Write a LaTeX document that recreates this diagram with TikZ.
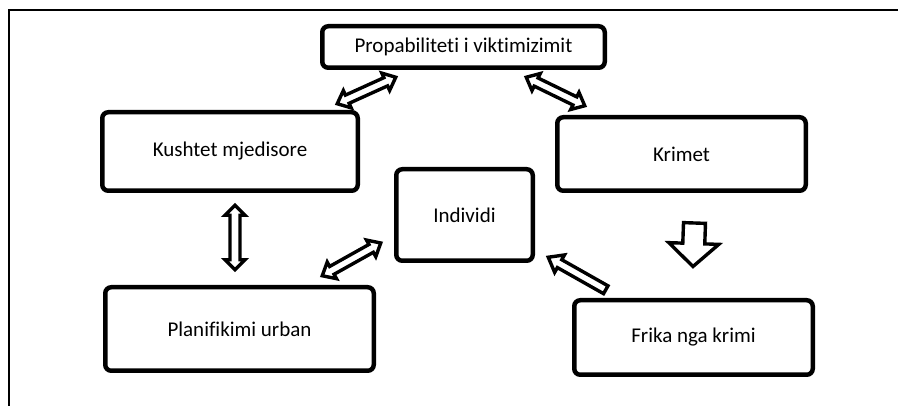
\documentclass[tikz,border=0pt]{standalone}
\usepackage{fontspec}
\setmainfont{Carlito}[Ligatures=NoCommon]
\usepackage{tikz}
\usetikzlibrary{calc}
\tikzset{
	box/.style={draw,line width=4.5pt,rounded corners=6pt,inner sep=0pt,font=\fontsize{21}{25}\selectfont},
	blockarrow/.style={draw,line width=3.4pt,fill=white,line join=miter},
}
% hollow block arrows: ends, shaft half width, head half width, head length
\newcommand{\dblarrow}[5]{%
	\coordinate (ca) at ($(#1)!#5!(#2)$);
	\coordinate (cb) at ($(#2)!#5!(#1)$);
	\draw[blockarrow] (#1) -- ($(ca)!#4!90:(#2)$) -- ($(ca)!#3!90:(#2)$) -- ($(cb)!#3!-90:(#1)$) -- ($(cb)!#4!-90:(#1)$) -- (#2)
		-- ($(cb)!#4!90:(#1)$) -- ($(cb)!#3!90:(#1)$) -- ($(ca)!#3!-90:(#2)$) -- ($(ca)!#4!-90:(#2)$) -- cycle;
}
\newcommand{\sglarrow}[5]{%
	\coordinate (cb) at ($(#2)!#5!(#1)$);
	\draw[blockarrow] ($(#1)!#3!90:(#2)$) -- ($(cb)!#3!-90:(#1)$) -- ($(cb)!#4!-90:(#1)$) -- (#2)
		-- ($(cb)!#4!90:(#1)$) -- ($(cb)!#3!90:(#1)$) -- ($(#1)!#3!-90:(#2)$) -- cycle;
}

\begin{document}
\begin{tikzpicture}[x=1pt,y=-1pt]
		\useasboundingbox (0,0) rectangle (898,406);
		\coordinate (frameTL) at (9,10);
		\draw[line width=1.6pt] (898,10) -- (frameTL) -- (9,406);

		\node[box,minimum width=282.5pt,minimum height=41.5pt] (prop) at (463.5,47) {Propabiliteti i viktimizimit};
		\node[box,minimum width=255.5pt,minimum height=78.5pt] (kushtet) at (230,151.5) {Kushtet mjedisore};
		\node[box,minimum width=248.5pt,minimum height=73.5pt] (krimet) at (681.5,154) {Krimet};
		\node[box,minimum width=136.5pt,minimum height=91.5pt] (individi) at (464.5,215) {Individi};
		\node[box,minimum width=268.5pt,minimum height=83.5pt] (planif) at (239.5,329) {Planifikimi urban};
		\node[box,minimum width=238.5pt,minimum height=74.5pt] (frika) at (693.5,337.5) {Frika nga krimi};

		% arrow ends, taken from the box corners
		\coordinate (kp1) at ($(kushtet.north east)+(-22.75,-6.25)$);
		\coordinate (kp2) at ($(prop.south west)+(75.75,7.25)$);
		\coordinate (pk1) at ($(prop.south east)+(-80.75,7.25)$);
		\coordinate (pk2) at ($(krimet.north west)+(29.75,-9.25)$);
		\coordinate (ku1) at ($(kushtet.south)+(5,12.25)$);
		\coordinate (ku2) at ($(planif.north)+(-4.5,-15.25)$);
		\coordinate (iu1) at ($(individi.west)+(-13.25,28)$);
		\coordinate (iu2) at ($(planif.north east)+(-53.75,-9.25)$);
		\coordinate (fi1) at ($(frika.north west)+(33.75,-8.25)$);
		\coordinate (fi2) at ($(individi.south east)+(13.25,-5.75)$);
		\coordinate (kf1) at ($(krimet.south)+(13,30)$);
		\coordinate (kf2) at ($(frika.north)+(-0.5,-31.5)$);

		\dblarrow{kp1}{kp2}{4.5pt}{9.5pt}{11pt}
		\dblarrow{pk1}{pk2}{4.5pt}{9.5pt}{11pt}
		\dblarrow{ku1}{ku2}{5pt}{10pt}{10pt}
		\dblarrow{iu1}{iu2}{4.5pt}{9.5pt}{11pt}
		\sglarrow{fi1}{fi2}{4.5pt}{10pt}{13pt}
		\sglarrow{kf1}{kf2}{11pt}{25pt}{23pt}
	\end{tikzpicture}
\end{document}
